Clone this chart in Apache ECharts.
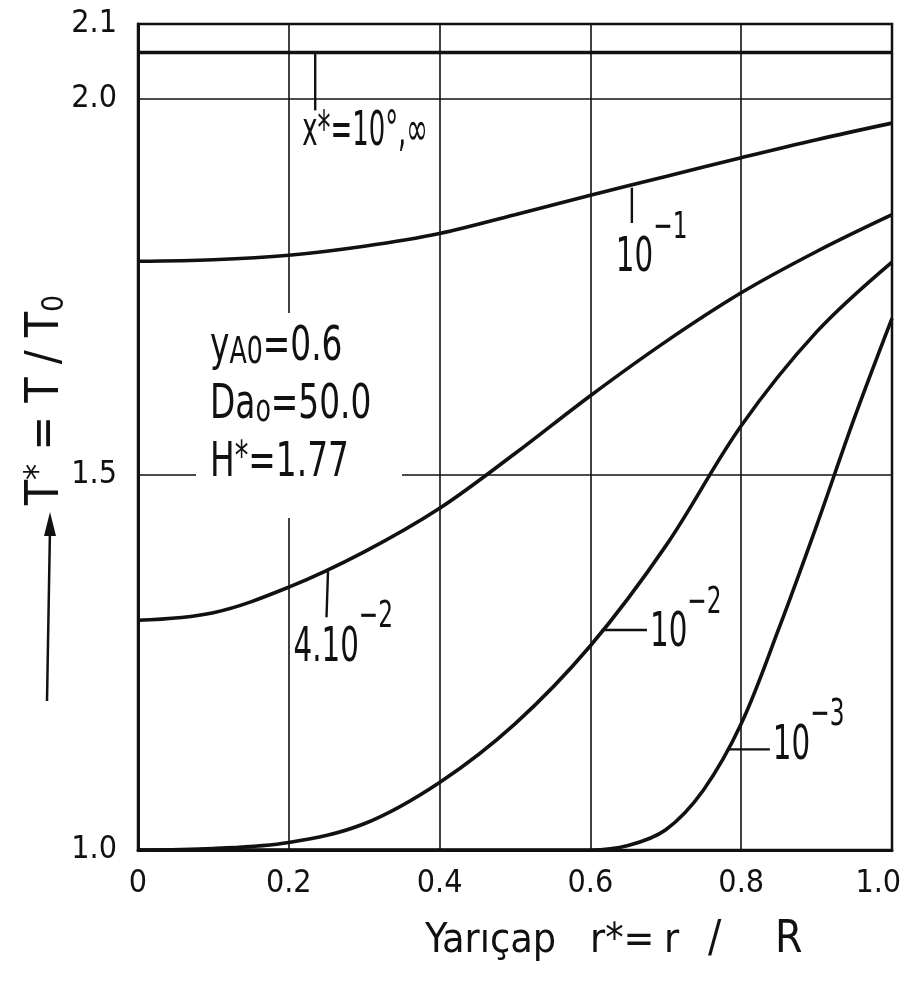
<!DOCTYPE html>
<html>
<head>
<meta charset="utf-8">
<script src="https://cdn.jsdelivr.net/npm/echarts@6/dist/echarts.min.js"></script>
<style>
html, body { margin: 0; padding: 0; background: #fff; }
#chart { width: 905px; height: 982px; }
</style>
</head>
<body>
<div id="chart"></div>
<script>
// radius r* = r/R where the curves were read
const rPts = [0, 0.1, 0.2, 0.3, 0.4, 0.5, 0.6, 0.7, 0.8, 0.9, 1.0];
// T* for x* = 10^-1
const tX1 = [1.784, 1.786, 1.792, 1.804, 1.821, 1.846, 1.872, 1.897, 1.922, 1.946, 1.968];
// T* for x* = 4·10^-2
const tX04 = [1.306, 1.316, 1.350, 1.397, 1.455, 1.528, 1.605, 1.677, 1.742, 1.797, 1.846];
// T* for x* = 10^-2
const tX01 = [1.0, 1.002, 1.010, 1.035, 1.090, 1.168, 1.272, 1.405, 1.565, 1.690, 1.783];
// x* = 10^-3 needs finer points near the wall
const rPts3 = [0, 0.2, 0.4, 0.6, 0.65, 0.7, 0.75, 0.8, 0.85, 0.9, 0.95, 1.0];
const tX001 = [1.0, 1.0, 1.0, 1.0, 1.006, 1.027, 1.080, 1.168, 1.295, 1.432, 1.575, 1.708];
// x* = 10^0 and infinity: flat line
const rInf = [0, 1.0];
const tInf = [2.062, 2.062];

const FONT = "'DejaVu Sans Condensed', 'Liberation Sans Narrow', 'DejaVu Sans', sans-serif";
const INK = '#111';

const chart = echarts.init(document.getElementById('chart'));

const pairs = (xs, ys) => xs.map((x, i) => [x, ys[i]]);
const curve = (name, xs, ys) => ({
    name: name,
    type: 'line',
    data: pairs(xs, ys),
    symbol: 'none',
    smooth: 0.35,
    lineStyle: { color: INK, width: 3.6 },
    z: 3
});

chart.setOption({
    animation: false,
    backgroundColor: '#fff',
    grid: {
        left: 138, right: 13, top: 24, bottom: 132,
        outerBoundsMode: 'none',
        show: true, borderColor: INK, borderWidth: 2.5
    },
    xAxis: {
        type: 'value', min: 0, max: 1, interval: 0.2,
        axisLine: { show: true, lineStyle: { color: INK, width: 3 } },
        axisTick: { show: false },
        splitLine: { show: true, lineStyle: { color: INK, width: 1.6 } },
        axisLabel: {
            color: INK, fontFamily: FONT, fontSize: 32, margin: 18,
            // last label pulled left a little so it stays on the page
            formatter: v => v === 0 ? '0' : (v === 1 ? '1.0   ' : v.toFixed(1))
        }
    },
    yAxis: {
        type: 'value', min: 1.0, max: 2.1, interval: 0.5,
        axisLine: { show: true, lineStyle: { color: INK, width: 3 } },
        axisTick: { show: false },
        splitLine: { show: true, lineStyle: { color: INK, width: 1.6 } },
        axisLabel: {
            color: INK, fontFamily: FONT, fontSize: 32, margin: 21,
            formatter: v => v.toFixed(1)
        }
    },
    series: [
        curve('1e0', rInf, tInf),
        curve('1e-1', rPts, tX1),
        curve('4e-2', rPts, tX04),
        curve('1e-2', rPts, tX01),
        curve('1e-3', rPts3, tX001)
    ]
});

// leader lines in data units, label offset in px from the leader end
const leaders = [
    { from: [0.655, 1.882], to: [0.655, 1.835], text: '{b|10}{s|−1}', dx: -16, dy: -14 },
    { from: [0.252, 1.371], to: [0.250, 1.310], text: '{b|4.10}{s|−2}', dx: -33, dy: -19 },
    { from: [0.615, 1.293], to: [0.675, 1.293], text: '{b|10}{s|−2}', dx: 3, dy: -46 },
    { from: [0.782, 1.134], to: [0.838, 1.134], text: '{b|10}{s|−3}', dx: 3, dy: -53 }
];

const supRich = {
    b: { fontFamily: FONT, fontSize: 48, lineHeight: 74, verticalAlign: 'bottom', fill: INK },
    s: { fontFamily: FONT, fontSize: 38, lineHeight: 46, verticalAlign: 'top', fill: INK }
};
const subRich = {
    b: { fontFamily: FONT, fontSize: 48, lineHeight: 48, verticalAlign: 'top', fill: INK },
    d: { fontFamily: FONT, fontSize: 37, lineHeight: 16, verticalAlign: 'bottom', fill: INK },
    s: { fontFamily: FONT, fontSize: 40, lineHeight: 28, verticalAlign: 'top', fill: INK }
};

const px = p => chart.convertToPixel({ gridIndex: 0 }, p);
const graphics = [];

leaders.forEach(l => {
    const a = px(l.from), b = px(l.to);
    graphics.push({
        type: 'line', z: 5,
        shape: { x1: a[0], y1: a[1], x2: b[0], y2: b[1] },
        style: { stroke: INK, lineWidth: 2.4 }
    });
    graphics.push({
        type: 'text', z: 5, x: b[0] + l.dx, y: b[1] + l.dy, scaleX: 0.68,
        style: { text: l.text, rich: supRich, align: 'left', verticalAlign: 'top' }
    });
});

// label of the flat top curve
const topA = px([0.235, 2.062]), topB = px([0.235, 1.985]);
graphics.push({
    type: 'line', z: 5,
    shape: { x1: topA[0], y1: topA[1], x2: topB[0], y2: topB[1] },
    style: { stroke: INK, lineWidth: 2.4 }
});
graphics.push({
    type: 'text', z: 5, x: topB[0] - 13, y: topB[1] - 2, scaleX: 0.6,
    style: { text: 'x*=10°,∞', fontFamily: FONT, fontSize: 48, lineHeight: 48, fill: INK, align: 'left', verticalAlign: 'top' }
});

// parameter block sits on a white patch that cuts the grid lines
graphics.push({
    type: 'rect', z: 2,
    shape: { x: 196, y: 313, width: 206, height: 205 },
    style: { fill: '#fff' }
});
const params = ['{b|y}{d|A0}{b|=0.6}', '{b|Da}{d|o}{b|=50.0}', '{b|H}{s|*}{b|=1.77}'];
const paramTop = [324, 382, 440];
params.forEach((t, i) => {
    graphics.push({
        type: 'text', z: 5, x: 210, y: paramTop[i], scaleX: 0.76,
        style: { text: t, rich: subRich, align: 'left', verticalAlign: 'top' }
    });
});

// x axis title, pieces placed one by one to keep the wide spacing
const xTitle = [['Yarıçap', 425, 41], ['r*=', 590, 41], ['r', 664, 41], ['/', 708, 44], ['R', 775, 44]];
xTitle.forEach(p => {
    graphics.push({
        type: 'text', z: 5, x: p[1], y: 919,
        style: { text: p[0], fontFamily: FONT, fontSize: p[2], lineHeight: 44, fill: INK, align: 'left', verticalAlign: 'top' }
    });
});
graphics.push({
    type: 'text', z: 5, x: 46, y: 400, rotation: Math.PI / 2,
    style: {
        text: '{b|T}{s|*}{b| = T / T}{d|0}',
        rich: {
            b: { fontFamily: FONT, fontSize: 46, lineHeight: 48, verticalAlign: 'middle', fill: INK },
            s: { fontFamily: FONT, fontSize: 36, lineHeight: 30, verticalAlign: 'top', fill: INK },
            d: { fontFamily: FONT, fontSize: 30, lineHeight: 30, verticalAlign: 'bottom', fill: INK }
        },
        align: 'center', verticalAlign: 'middle'
    }
});
// arrow pointing up along the T* axis
graphics.push({ type: 'line', z: 5, shape: { x1: 47, y1: 701, x2: 50, y2: 528 }, style: { stroke: INK, lineWidth: 2.5 } });
graphics.push({ type: 'polygon', z: 5, shape: { points: [[50, 512], [44, 536], [56, 536]] }, style: { fill: INK } });

chart.setOption({ graphic: graphics });
</script>
</body>
</html>
